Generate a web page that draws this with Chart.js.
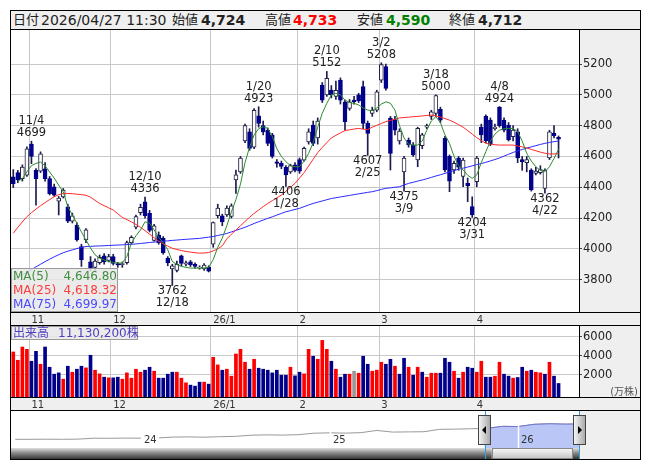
<!DOCTYPE html>
<html lang="ja">
<head>
<meta charset="utf-8">
<title>株価チャート</title>
<script src="https://cdn.jsdelivr.net/npm/chart.js@4.4.1/dist/chart.umd.min.js"></script>
<style>
  body { margin: 0; background: #fff; font-family: "DejaVu Sans", "Noto Sans CJK JP", sans-serif; }
  #frame { position: absolute; left: 10px; top: 10px; width: 631px; height: 450px; border: 1px solid #000; box-sizing: border-box; }
  #head { position: absolute; left: 11px; top: 11px; width: 629px; height: 18px; background: #efefef; }
  #head span { position: absolute; top: 0; line-height: 18px; white-space: nowrap; color: #222; font-size: 14px; }
  #head .jp { font-size: 13px; }
  #head .v { font-weight: bold; }
  .line { position: absolute; left: 10px; width: 631px; height: 1px; background: #000; }
  canvas { position: absolute; left: 11px; }
  .box { position: absolute; background: rgba(232, 232, 232, 0.85); border: 1px solid #9a9a9a; box-sizing: border-box; font-size: 12px; }
  #maBox div { position: relative; height: 14px; line-height: 14px; }
  #maBox .n { position: absolute; left: 1px; }
  #maBox .val { position: absolute; right: 0; }
  #volBox { line-height: 13px; color: #5040c0; white-space: nowrap; }
  #volBox span { position: absolute; top: 0; white-space: nowrap; }
  #unit { position: absolute; left: 579px; width: 59px; top: 383px; text-align: right; font-size: 10px; color: #555; }
</style>
</head>
<body>
<div id="frame"></div>
<div id="head">
  <span class="jp" style="left:2px">日付</span>
  <span id="hTime" style="left:30px"></span>
  <span class="jp" style="left:161px">始値</span>
  <span id="hOpen" class="v" style="left:190px"></span>
  <span class="jp" style="left:254px">高値</span>
  <span id="hHigh" class="v" style="left:282px;color:#ff0000"></span>
  <span class="jp" style="left:346px">安値</span>
  <span id="hLow" class="v" style="left:375px;color:#008000"></span>
  <span class="jp" style="left:438px">終値</span>
  <span id="hClose" class="v" style="left:467px"></span>
</div>
<canvas id="main" width="629" height="295" style="top:30px"></canvas>
<canvas id="vol" width="629" height="84" style="top:326px"></canvas>
<canvas id="nav" width="629" height="48" style="top:411px"></canvas>
<div class="line" style="top:29px"></div>
<div class="line" style="top:312px"></div>
<div class="line" style="top:325px"></div>
<div class="line" style="top:397px"></div>
<div class="line" style="top:410px"></div>
<div id="maBox" class="box" style="left:11px;top:268px;width:107px;height:44px"></div>
<div id="volBox" class="box" style="left:11px;top:326px;width:127px;height:14px">
  <span style="left:1px">出来高</span><span id="volText" style="left:46px"></span>
</div>
<div id="unit">(万株)</div>

<script>
const quoteTime = '2026/04/27 11:30';

const dates = [
  '10/28','10/29','10/30','10/31',
  '11/4','11/5','11/6','11/7','11/10','11/11','11/12','11/13','11/14','11/17','11/18','11/19','11/20','11/21','11/25','11/26','11/27','11/28',
  '12/1','12/2','12/3','12/4','12/5','12/8','12/9','12/10','12/11','12/12','12/15','12/16','12/17','12/18','12/19','12/22','12/23','12/24','12/25','12/26','12/29','12/30',
  '1/5','1/6','1/7','1/8','1/9','1/13','1/14','1/15','1/16','1/19','1/20','1/21','1/22','1/23','1/26','1/27','1/28','1/29','1/30',
  '2/2','2/3','2/4','2/5','2/6','2/9','2/10','2/12','2/13','2/16','2/17','2/18','2/19','2/20','2/24','2/25','2/26','2/27',
  '3/2','3/3','3/4','3/5','3/6','3/9','3/10','3/11','3/12','3/13','3/16','3/17','3/18','3/19','3/23','3/24','3/25','3/26','3/27','3/30','3/31',
  '4/1','4/2','4/3','4/6','4/7','4/8','4/9','4/10','4/13','4/14','4/15','4/16','4/17','4/20','4/21','4/22','4/23','4/24','4/27'
];
const monthLabels = ['11', '12', '26/1', '2', '3', '4'];

const opens = [
  4467,4495,4455,4478,4680,4510,4505,4520,4456,4402, 4310,4338,4273,4180,4155,4015,4058,3915,3880,3910,
  3955,3925,3950,3905,3898,3910,4040,4140,4235,4305, 4230,4055,4090,4070,3940,3870,3860,3955,3900,3915,
  3900,3875,3870,3880,4030,4215,4215,4220,4210,4447, 4500,4700,4760,4660,4863,4800,4770,4740,4565,4555,
  4530,4500,4545,4580,4576,4695,4804,4720,5064,4999, 5031,4990,5096,4955,4912,4966,5000,5053,4815,4880,
  4900,5096,5183,4847,4840,4700,4500,4707,4674,4577, 4670,4790,4860,4880,4906,4717,4600,4512,4590,4470,
  4425,4274,4436,4790,4860,4836,4780,4920,4836,4804, 4728,4760,4580,4560,4512,4490,4495,4393,4590,4750,
  4724
];
const highs = [
  4515,4510,4545,4662,4699,4522,4630,4560,4470,4420, 4340,4392,4290,4232,4170,4030,4132,3950,3935,3960,
  3970,3965,3965,3912,3915,4050,4085,4220,4290,4336, 4250,4160,4110,4080,3950,3900,3920,3960,3920,3925,
  3910,3890,3905,3890,4175,4290,4225,4280,4292,4512, 4600,4810,4780,4910,4923,4830,4785,4750,4580,4570,
  4540,4550,4560,4590,4660,4780,4830,4850,5080,5152, 5060,5090,5110,4966,4970,4990,5010,5090,4830,4920,
  5030,5208,5200,4860,4860,4780,4600,4720,4690,4790, 4750,4810,4900,5000,4920,4730,4610,4570,4600,4590,
  4460,4338,4600,4810,4870,4850,4810,4924,4850,4820, 4800,4780,4600,4600,4520,4530,4540,4520,4770,4800,
  4733
];
const lows = [
  4398,4430,4440,4470,4553,4284,4495,4440,4350,4340, 4220,4330,4170,4168,4050,3886,4040,3855,3860,3900,
  3900,3915,3895,3880,3880,3900,4030,4130,4220,4200, 4110,4050,4030,3965,3890,3762,3850,3890,3890,3885,
  3875,3868,3860,3850,4010,4200,4150,4210,4200,4360, 4490,4690,4640,4650,4790,4740,4670,4590,4530,4520,
  4406,4490,4500,4490,4570,4680,4670,4680,4950,4990, 4980,4970,4940,4770,4900,4940,4950,4780,4607,4860,
  4890,5080,5030,4512,4740,4680,4375,4660,4600,4533, 4650,4780,4840,4860,4820,4500,4371,4490,4510,4403,
  4306,4204,4403,4690,4690,4670,4770,4790,4760,4700, 4700,4560,4510,4500,4375,4480,4485,4362,4580,4720,
  4590
];
const closes = [
  4424,4448,4531,4650,4600,4456,4617,4456,4359,4348, 4330,4381,4180,4215,4058,3929,4123,3870,3920,3945,
  3915,3950,3905,3895,3905,4040,4075,4210,4270,4215, 4120,4150,4040,3975,3910,3890,3900,3905,3910,3895,
  3886,3880,3895,3855,4170,4265,4175,4265,4280,4480, 4590,4800,4652,4900,4815,4760,4685,4600,4555,4535,
  4480,4540,4510,4505,4652,4760,4685,4830,4966,5107, 4999,5030,4966,4825,4955,4955,4960,4815,4750,4900,
  5020,5196,5042,4620,4770,4765,4590,4675,4610,4782, 4740,4800,4890,4995,4836,4512,4440,4555,4530,4577,
  4410,4220,4590,4740,4700,4680,4790,4800,4771,4707, 4771,4590,4566,4580,4382,4505,4515,4512,4760,4735,
  4712
];
// 出来高（万株）
const volumes = [
  4410,3543,4930,4690,3440,4480,3126,4930,2813,2084, 2223,1563,2918,2292,2605,2918,2744,4064,2500,2119,
  1771,1702,1702,1771,1563,2223,1667,2605,2292,2500, 2813,2397,1667,1667,2084,2292,2292,1667,1181,938,
  834,1250,1250,1042,3855,3056,2500,2605,1876,4203, 4690,3334,2605,3647,2709,2605,2500,2223,2500,1980,
  1980,2813,1911,2292,2119,4690,3960,3647,5627,4690, 3440,2605,1771,2084,2084,2397,2188,3960,3126,2397,
  2500,3334,3126,3647,2918,2084,3751,2813,1980,2813, 2292,1771,2188,2188,2188,3751,3334,2397,1667,2292,
  2813,2709,2292,3440,1771,1771,1876,3334,2084,1876, 1667,1737,2813,2397,2500,2292,2223,2084,3334,1876,
  1113.02
];

const ma5 = [
  null,4440,4456,4500,4540,4555,4563,4540,4499,4460, 4413,4370,4273,4220,4166,4110,4058,4005,3961,3940,
  3928,3918,3912,3908,3908,3951,4037,4085,4123,4176, 4166,4123,4075,4040,3994,3918,3898,3886,3880,3875,
  3875,3875,3876,3880,3930,4010,4070,4150,4240,4320, 4420,4560,4660,4740,4780,4793,4782,4730,4650,4600,
  4566,4540,4533,4533,4570,4620,4690,4790,4880,4945, 5000,5010,5000,4966,4950,4945,4934,4915,4901,4898,
  4915,4940,4955,4945,4900,4800,4720,4680,4674,4674, 4700,4771,4830,4858,4820,4740,4685,4600,4540,4512,
  4478,4458,4480,4560,4631,4700,4745,4771,4780,4782, 4782,4760,4700,4620,4570,4533,4510,4501,4533,4587,
  4646.80
];
const ma25 = [
  4101,4140,4175,4209,4235,4258,4280,4300,4320,4338, 4352,4359,4360,4358,4355,4352,4348,4335,4315,4295,
  4280,4266,4252,4228,4204,4190,4175,4158,4140,4118, 4095,4072,4050,4033,4018,4004,3996,3989,3983,3979,
  3975,3972,3973,3976,3987,4000,4020,4065,4095,4122, 4150,4178,4205,4230,4252,4274,4295,4313,4331,4349,
  4374,4400,4425,4460,4495,4538,4582,4625,4658,4690, 4720,4737,4753,4768,4773,4778,4782,4777,4775,4790,
  4802,4814,4826,4834,4842,4850,4853,4855,4858,4860, 4863,4866,4869,4863,4856,4846,4836,4822,4806,4790,
  4768,4745,4722,4703,4685,4680,4676,4674,4674,4674, 4674,4668,4662,4655,4646,4637,4628,4621,4616,4616,
  4618.32
];
const ma75 = [
  3800,3815,3832,3848,3865,3883,3900,3917,3933,3948, 3962,3975,3985,3993,4002,4009,4015,4016,4018,4019,
  4020,4022,4023,4025,4026,4028,4030,4032,4035,4038, 4041,4044,4047,4050,4052,4055,4057,4060,4062,4064,
  4066,4068,4072,4076,4080,4087,4093,4100,4110,4120, 4130,4140,4152,4165,4176,4187,4198,4208,4219,4230,
  4241,4248,4256,4263,4274,4285,4295,4303,4311,4319, 4327,4332,4337,4342,4347,4352,4357,4362,4367,4371,
  4378,4386,4393,4396,4400,4403,4415,4425,4432,4440, 4447,4455,4464,4473,4481,4490,4499,4508,4517,4524,
  4531,4539,4547,4554,4562,4571,4580,4590,4602,4614, 4626,4636,4645,4654,4662,4670,4678,4685,4691,4696,
  4699.97
];

const priceTicks = [3800, 4000, 4200, 4400, 4600, 4800, 5000, 5200];
const volTicks = [2000, 4000, 6000];

// 注記を付ける足（高値・安値）
const highMarks = [4, 29, 54, 69, 81, 93, 107];
const lowMarks = [35, 60, 78, 86, 101, 117];

// ナビゲーター（月次、2023/04〜2026/04）
const navFrom = '2023-04';
const navValues = [
  23.5,23.5,23.8,23.5,24.0,26.5,26.2,26.8,26.5,
  27.0,29.5,30.0,29.2,30.5,31.5,34.5,35.5,34.8,36.0,40.0,41.0,
  40.2,41.5,47.5,43.0,43.5,44.0,50.5,51.0,52.0,53.0,58.5,58.0,
  64.0,65.5,64.5,65.0
];
const navYears = ['24', '25', '26'];
const navYearMonths = [0, 12, 24];
const navRange = [21.86, 27.86];

const FONT = '"DejaVu Sans", "Noto Sans CJK JP", sans-serif';
Chart.defaults.font.family = FONT;

const fmt = v => v.toLocaleString('en-US');
const last = closes.length - 1;
document.getElementById('hTime').textContent = quoteTime;
document.getElementById('hOpen').textContent = fmt(opens[last]);
document.getElementById('hHigh').textContent = fmt(highs[last]);
document.getElementById('hLow').textContent = fmt(lows[last]);
document.getElementById('hClose').textContent = fmt(closes[last]);
document.getElementById('volText').textContent = fmt(Math.round(volumes[last] * 10000)) + '株';

const maRows = [['MA(5)', ma5, '#3f8f3f'], ['MA(25)', ma25, '#ff3b3b'], ['MA(75)', ma75, '#4b4bff']];
document.getElementById('maBox').innerHTML = maRows.map(([n, arr, c]) =>
  `<div style="color:${c}"><span class="n">${n}</span><span class="val">${arr[last].toLocaleString('en-US', {minimumFractionDigits: 2, maximumFractionDigits: 2})}</span></div>`
).join('');

const slots = dates.concat(['', '', '', '']);
const monthLabelAt = {};
let k = 0;
dates.forEach((d, i) => {
  if (i > 0 && d.split('/')[0] !== dates[i - 1].split('/')[0]) monthLabelAt[i] = monthLabels[k++];
});

const fixAxis = (w, h) => s => {
  if (w != null) s.width = w;
  if (h != null) s.height = h;
  s.paddingTop = s.paddingBottom = s.paddingLeft = s.paddingRight = 0;
};

const xAxis = () => ({
  type: 'category',
  offset: true,
  grid: { offset: true, drawTicks: false, color: c => (c.index in monthLabelAt) ? '#c8c8c8' : 'rgba(0,0,0,0)' },
  border: { display: false },
  ticks: { autoSkip: false, maxRotation: 0, minRotation: 0, align: 'start', padding: 2, color: '#333', font: { size: 10 },
    callback: (v, i) => monthLabelAt[i] || '' },
  afterFit: fixAxis(null, 13)
});

const rightAxis = (min, max, list) => ({
  position: 'right', min: min, max: max,
  afterBuildTicks: s => { s.ticks = list.map(v => ({ value: v })); },
  afterFit: fixAxis(61, null),
  grid: { color: '#c8c8c8', tickLength: 3, tickColor: '#444' },
  border: { color: '#000' },
  ticks: { padding: 1, color: '#222', font: { size: 11.5 }, callback: v => String(v) }
});

const panelBg = {
  id: 'panelBg',
  beforeDraw(chart) {
    const { ctx, chartArea: a, width, height } = chart;
    ctx.save();
    ctx.fillStyle = '#efefef';
    ctx.fillRect(0, 0, width, height);
    ctx.fillStyle = '#fff';
    ctx.fillRect(a.left, a.top, a.right - a.left, a.bottom - a.top);
    ctx.restore();
  }
};

const peakLabels = {
  id: 'peakLabels',
  afterDatasetsDraw(chart) {
    const { ctx, scales: { x, y } } = chart;
    ctx.save();
    ctx.font = '11.5px ' + FONT;
    ctx.fillStyle = '#222';
    ctx.textAlign = 'center';
    ctx.textBaseline = 'middle';
    highMarks.forEach(i => {
      const px = x.getPixelForValue(i), py = y.getPixelForValue(highs[i]);
      ctx.fillText(dates[i], px, py - 20);
      ctx.fillText(String(highs[i]), px, py - 8);
    });
    lowMarks.forEach(i => {
      const px = x.getPixelForValue(i), py = y.getPixelForValue(lows[i]);
      ctx.fillText(String(lows[i]), px, py + 6);
      ctx.fillText(dates[i], px, py + 17.5);
    });
    ctx.restore();
  }
};

const common = {
  responsive: false,
  animation: false,
  events: [],
  layout: { padding: 0 },
  plugins: { legend: { display: false }, tooltip: { enabled: false } }
};

const isUp = closes.map((c, i) => c >= opens[i]);

new Chart(document.getElementById('main'), {
  type: 'bar',
  data: {
    labels: slots,
    datasets: [
      { type: 'line', data: ma5, borderColor: '#2e8b2e', borderWidth: 1, pointRadius: 0, tension: 0 },
      { type: 'line', data: ma25, borderColor: '#ff2a2a', borderWidth: 1, pointRadius: 0, tension: 0 },
      { type: 'line', data: ma75, borderColor: '#2a2aff', borderWidth: 1, pointRadius: 0, tension: 0 },
      { data: opens.map((o, i) => [o, closes[i]]),
        backgroundColor: isUp.map(u => u ? '#ffffff' : '#00008b'),
        borderColor: isUp.map(u => u ? '#202040' : '#00008b'),
        borderWidth: 1, borderSkipped: false, barThickness: 4, minBarLength: 1, grouped: false },
      { data: lows.map((l, i) => [l, highs[i]]), backgroundColor: '#1c1c50', barThickness: 1, grouped: false }
    ]
  },
  options: Object.assign({}, common, {
    scales: { x: xAxis(), y: rightAxis(3590, 5421, priceTicks) }
  }),
  plugins: [panelBg, peakLabels]
});

const VOL_MIN = -304;
const volColors = closes.map((c, i) => (i === 0 || c > closes[i - 1]) ? '#ff0000' : (c < closes[i - 1] ? '#00008b' : '#999999'));

new Chart(document.getElementById('vol'), {
  type: 'bar',
  data: {
    labels: slots,
    datasets: [{ data: volumes, backgroundColor: volColors, barThickness: 3, base: VOL_MIN }]
  },
  options: Object.assign({}, common, {
    scales: { x: xAxis(), y: rightAxis(VOL_MIN, 7131, volTicks) }
  }),
  plugins: [panelBg]
});

const navStart = (() => { const [yy, mm] = navFrom.split('-').map(Number); return (yy - 2024) * 12 + (mm - 1); })();
const navData = navValues.map((v, i) => ({ x: navStart + i + 1, y: v }));

const navDecor = {
  id: 'navDecor',
  beforeDraw(chart) {
    const { ctx, chartArea: a, width, height } = chart;
    ctx.save();
    ctx.fillStyle = '#fff';
    ctx.fillRect(0, 0, width, height);
    ctx.fillStyle = '#efefef';
    ctx.fillRect(a.right, 0, width - a.right, height);
    ctx.restore();
  },
  afterDatasetsDraw(chart) {
    const { ctx, chartArea: a, scales: { x, y }, height } = chart;
    const x0 = x.getPixelForValue(navRange[0]), x1 = x.getPixelForValue(navRange[1]);
    const trace = () => navData.forEach((p, i) => {
      const px = x.getPixelForValue(p.x), py = y.getPixelForValue(p.y);
      if (i) ctx.lineTo(px, py); else ctx.moveTo(px, py);
    });
    ctx.save();
    ctx.beginPath();
    ctx.rect(x0, a.top, x1 - x0, a.bottom - a.top);
    ctx.clip();
    ctx.beginPath();
    trace();
    ctx.lineTo(x.getPixelForValue(navData[navData.length - 1].x), a.bottom);
    ctx.lineTo(x.getPixelForValue(navData[0].x), a.bottom);
    ctx.closePath();
    ctx.fillStyle = '#b9c6f6';
    ctx.fill();
    ctx.beginPath();
    trace();
    ctx.strokeStyle = '#7373c8';
    ctx.lineWidth = 1;
    ctx.stroke();
    ctx.restore();

    // 年の区切り
    ctx.save();
    ctx.font = '10px ' + FONT;
    ctx.textBaseline = 'middle';
    navYearMonths.forEach((m, j) => {
      const px = Math.round(x.getPixelForValue(m)) + 0.5;
      ctx.strokeStyle = '#fff';
      ctx.lineWidth = 1.5;
      ctx.beginPath(); ctx.moveTo(px, a.top); ctx.lineTo(px, a.bottom); ctx.stroke();
      const w = ctx.measureText(navYears[j]).width;
      if (px < x0) { ctx.fillStyle = '#fff'; ctx.fillRect(px, 24, w + 5, 11); }
      ctx.fillStyle = '#333';
      ctx.fillText(navYears[j], px + 2.5, 29.5);
    });
    ctx.restore();

    // スクロールバー
    ctx.save();
    const sbTop = a.bottom, sbH = height - a.bottom;
    let g = ctx.createLinearGradient(0, sbTop, 0, sbTop + sbH);
    g.addColorStop(0, '#dedede'); g.addColorStop(0.45, '#8a8a8a'); g.addColorStop(1, '#363636');
    ctx.fillStyle = g;
    ctx.fillRect(a.left, sbTop, a.right - a.left, sbH);
    g = ctx.createLinearGradient(0, sbTop, 0, sbTop + sbH);
    g.addColorStop(0, '#fbfbfb'); g.addColorStop(1, '#c2c2c2');
    ctx.fillStyle = g;
    ctx.fillRect(x0 + 7, sbTop, x1 - x0 - 14, sbH);
    ctx.strokeStyle = '#888';
    ctx.strokeRect(Math.round(x0 + 7) + 0.5, sbTop + 0.5, Math.round(x1 - x0 - 14), sbH - 1);

    // 選択範囲の境界と取っ手
    ctx.strokeStyle = '#2aa0e0';
    ctx.lineWidth = 1;
    [x0, x1].forEach(px => {
      const p = Math.round(px) + 0.5;
      ctx.beginPath(); ctx.moveTo(p, 0); ctx.lineTo(p, height); ctx.stroke();
    });
    [[x0, -1], [x1, 1]].forEach(([cx, dir]) => {
      const left = Math.round(cx - 6.5), top = 4, w = 13, h = 30;
      const hg = ctx.createLinearGradient(left, 0, left + w, 0);
      hg.addColorStop(0, '#fafafa'); hg.addColorStop(1, '#a4a4a4');
      ctx.fillStyle = hg;
      ctx.fillRect(left, top, w, h);
      ctx.strokeStyle = '#444';
      ctx.strokeRect(left + 0.5, top + 0.5, w - 1, h - 1);
      const cy = top + h / 2, mx = left + w / 2;
      ctx.fillStyle = '#000';
      ctx.beginPath();
      ctx.moveTo(mx + dir * 2.5, cy);
      ctx.lineTo(mx - dir * 1.5, cy - 4);
      ctx.lineTo(mx - dir * 1.5, cy + 4);
      ctx.closePath();
      ctx.fill();
    });
    ctx.restore();
  }
};

new Chart(document.getElementById('nav'), {
  type: 'line',
  data: { datasets: [{ data: navData, borderColor: '#9a9a9a', borderWidth: 1, pointRadius: 0, fill: false, tension: 0 }] },
  options: Object.assign({}, common, {
    layout: { padding: { right: 61, bottom: 11 } },
    scales: {
      x: { type: 'linear', display: false, min: -8.27, max: 27.86 },
      y: { display: false, min: 0, max: 100 }
    }
  }),
  plugins: [navDecor]
});
</script>
</body>
</html>
